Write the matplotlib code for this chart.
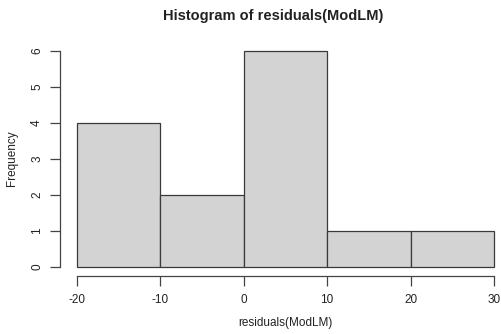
import matplotlib
matplotlib.use("Agg")
import matplotlib.pyplot as plt
import numpy as np

plt.rcParams['font.family'] = ['Liberation Sans', 'DejaVu Sans']
plt.rcParams['axes.unicode_minus'] = False

bin_edges = [-20, -10, 0, 10, 20, 30]
counts = [4, 2, 6, 1, 1]
xticks = [-20, -10, 0, 10, 20, 30]
yticks = [0, 1, 2, 3, 4, 5, 6]

W, H = 501, 334
fig = plt.figure(figsize=(W/100, H/100), dpi=100)
ax = fig.add_axes([59.8/W, (H-275.6)/H, 451/W, (275.6-42.4)/H])

lefts = np.array(bin_edges[:-1])
widths = np.diff(bin_edges)
ax.bar(lefts, counts, width=widths, align='edge', color='#d3d3d3', edgecolor='#3a3a3a', linewidth=0.9)

ax.set_xlim(-22, 32)
ax.set_ylim(-0.24, 6.24)
for s in ['top', 'right']:
    ax.spines[s].set_visible(False)
ax.spines['left'].set_bounds(0, 6)
ax.spines['bottom'].set_bounds(-20, 30)
for s in ['left', 'bottom']:
    ax.spines[s].set_color('#444444')
    ax.spines[s].set_linewidth(0.9)
ax.set_xticks(xticks)
ax.set_xticklabels([str(v) for v in xticks])
ax.set_yticks(yticks)
ax.set_yticklabels([str(v) for v in yticks], rotation=90, va='center')
ax.tick_params(axis='both', direction='out', length=7, width=0.9, color='#444444', labelsize=8.5, labelcolor='#222222')
ax.tick_params(axis='x', pad=6)
ax.tick_params(axis='y', pad=5)

fig.text(273/W, 1-16/H, 'Histogram of residuals(ModLM)', ha='center', va='center', fontsize=10.5, fontweight='bold', color='#222222')
fig.text(285/W, 1-323/H, 'residuals(ModLM)', ha='center', va='center', fontsize=8.5, color='#222222')
fig.text(12/W, 1-158/H, 'Frequency', ha='center', va='center', rotation=90, fontsize=8.5, color='#222222')

fig.savefig('out.png', dpi=100)
